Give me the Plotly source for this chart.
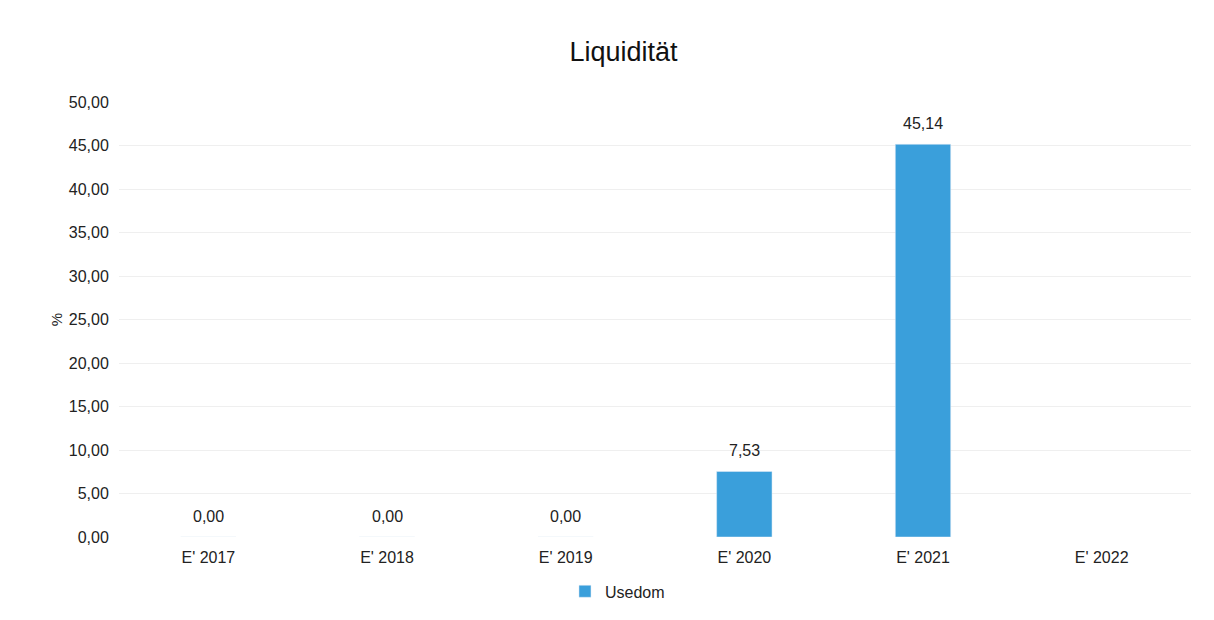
import plotly.graph_objects as go

categories = ["E' 2017", "E' 2018", "E' 2019", "E' 2020", "E' 2021", "E' 2022"]
usedom = [0.00, 0.00, 0.00, 7.53, 45.14, None]
y_ticks = [0, 5, 10, 15, 20, 25, 30, 35, 40, 45, 50]

fig = go.Figure()
fig.add_trace(go.Bar(
    x=categories, y=usedom, name="Usedom",
    marker=dict(color="#3A9FDB"),
    width=0.31,
))

for c, v in zip(categories, usedom):
    if v is None:
        continue
    fig.add_annotation(x=c, y=v, xref="x", yref="y", text=f"{v:.2f}".replace(".", ","),
                       showarrow=False, yanchor="middle", yshift=21,
                       font=dict(size=16, color="#222222"))

fig.update_layout(
    width=1214, height=620,
    paper_bgcolor="white", plot_bgcolor="white",
    separators=",.",
    font=dict(family="Liberation Sans, Arial, sans-serif", size=16, color="#222222"),
    title=dict(text="Liquidität", x=0.507, xanchor="center", y=0.929, yanchor="middle",
               font=dict(size=27, color="#111111")),
    margin=dict(l=111, r=31, t=94, b=91),
    showlegend=True,
    legend=dict(orientation="h", x=0.465, xanchor="center", y=-0.125, yanchor="middle",
                font=dict(size=16), itemwidth=30),
    xaxis=dict(showgrid=False, showline=False, ticks="outside", ticklen=6, tickcolor="white",
               tickfont=dict(size=16)),
    yaxis=dict(range=[0, 50], tickvals=y_ticks, tickformat=".2f", showgrid=True,
               gridcolor="#EFEFEF", gridwidth=1, zeroline=False,
               ticks="outside", ticklen=6, tickcolor="white",
               title=dict(text="%", standoff=2, font=dict(size=15)),
               tickfont=dict(size=16)),
)

fig.write_html("out.html")
